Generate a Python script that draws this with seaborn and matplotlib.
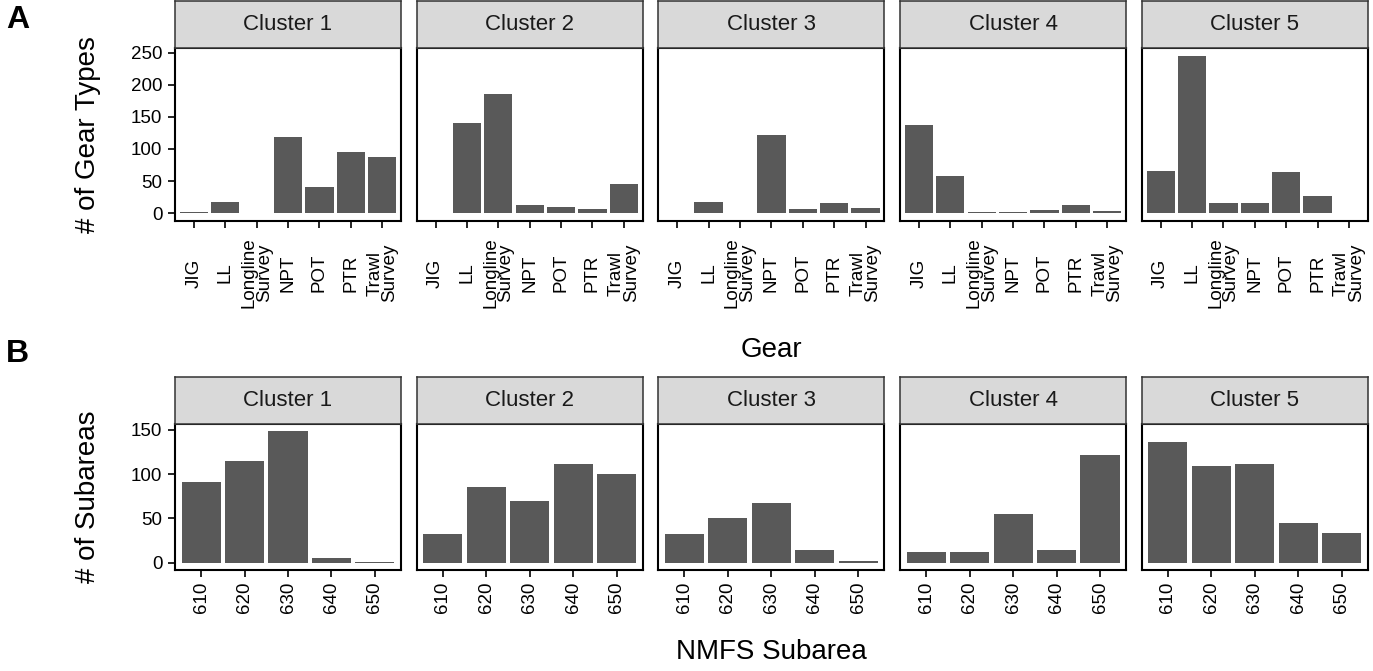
import numpy as np
import pandas as pd
import matplotlib
matplotlib.use("Agg")
import matplotlib.pyplot as plt
import seaborn as sns

# ---- data -------------------------------------------------------------
clusters = ["Cluster 1", "Cluster 2", "Cluster 3", "Cluster 4", "Cluster 5"]

gears = ["JIG", "LL", "Longline Survey", "NPT", "POT", "PTR", "Trawl Survey"]
gear_tick_labels = ["JIG", "LL", "Longline\nSurvey", "NPT", "POT", "PTR", "Trawl\nSurvey"]
gear_c1 = [2, 18, 0, 118, 40, 95, 88]
gear_c2 = [0, 140, 185, 13, 9, 6, 46]
gear_c3 = [0, 18, 0, 121, 6, 16, 8]
gear_c4 = [137, 58, 2, 2, 5, 12, 3]
gear_c5 = [66, 245, 16, 16, 64, 26, 0]
gear_counts = [gear_c1, gear_c2, gear_c3, gear_c4, gear_c5]

subareas = ["610", "620", "630", "640", "650"]
sub_c1 = [91, 115, 149, 5, 1]
sub_c2 = [33, 85, 70, 111, 100]
sub_c3 = [32, 51, 67, 15, 2]
sub_c4 = [12, 12, 55, 15, 122]
sub_c5 = [136, 109, 111, 45, 34]
sub_counts = [sub_c1, sub_c2, sub_c3, sub_c4, sub_c5]

gear_ticks = [0, 50, 100, 150, 200, 250]
sub_ticks = [0, 50, 100, 150]

gear_df = pd.DataFrame(
    [(c, g, v) for c, vals in zip(clusters, gear_counts) for g, v in zip(gears, vals)],
    columns=["cluster", "gear", "n"],
)
sub_df = pd.DataFrame(
    [(c, s, v) for c, vals in zip(clusters, sub_counts) for s, v in zip(subareas, vals)],
    columns=["cluster", "subarea", "n"],
)

# ---- style -------------------------------------------------------------
sns.set_style("white")
plt.rcParams["font.family"] = ["Liberation Sans", "DejaVu Sans"]
plt.rcParams["text.color"] = "black"
plt.rcParams["axes.labelcolor"] = "black"

BAR = "#595959"
STRIP_FILL = "#D9D9D9"
STRIP_EDGE = "#333333"

W, H = 1373, 671
fig = plt.figure(figsize=(W / 100, H / 100), dpi=100)


def box(l, t, r, b):
    return [l / W, 1 - b / H, (r - l) / W, (b - t) / H]


PANEL_L0 = 175
PANEL_STEP = 241.7
PANEL_W = 226
TICK_LEN = 5          # points
PX = 0.72             # points per pixel at 100 dpi


def draw_row(df, xcol, order, ticklabels, yticks, strip_top, panel_top,
             panel_bottom, label_center):
    ymax = df["n"].max()
    lo, hi = -0.05 * ymax, ymax * 1.05
    # distance from the tick end to the centre of the rotated labels
    xpad = (label_center - panel_bottom) * PX - TICK_LEN
    for k, c in enumerate(clusters):
        l = PANEL_L0 + k * PANEL_STEP
        r = l + PANEL_W
        ax = fig.add_axes(box(l, panel_top, r, panel_bottom))
        sns.barplot(
            data=df[df["cluster"] == c], x=xcol, y="n", order=order,
            color=BAR, saturation=1, width=0.9, errorbar=None,
            linewidth=0, ax=ax,
        )
        n = len(order)
        ax.set_xlim(-0.6, n - 0.4)
        ax.set_ylim(lo, hi)
        ax.set_xlabel("")
        ax.set_ylabel("")
        ax.set_xticks(range(n))
        ax.set_xticklabels(ticklabels)
        ax.tick_params(axis="x", length=TICK_LEN, width=1.2, pad=xpad,
                       labelsize=13.5, colors="black", bottom=True)
        for t in ax.get_xticklabels():
            t.set_rotation(90)
            t.set_ha("center")
            t.set_va("center")
            t.set_multialignment("center")
            t.set_linespacing(0.85)
        if k == 0:
            ax.set_yticks(yticks)
            ax.tick_params(axis="y", length=TICK_LEN, width=1.2, pad=4,
                           labelsize=13.5, colors="black", left=True)
        else:
            ax.set_yticks([])
        for s in ax.spines.values():
            s.set_visible(True)
            s.set_color("black")
            s.set_linewidth(1.5)

        sax = fig.add_axes(box(l, strip_top, r, panel_top))
        sax.set_facecolor(STRIP_FILL)
        sax.set_xticks([])
        sax.set_yticks([])
        for s in sax.spines.values():
            s.set_color(STRIP_EDGE)
            s.set_linewidth(1.1)
        sax.text(0.5, 0.5, c, ha="center", va="center", fontsize=16,
                 color="#1A1A1A", transform=sax.transAxes)


draw_row(gear_df, "gear", gears, gear_tick_labels, gear_ticks, 1, 48, 221, 273)
draw_row(sub_df, "subarea", subareas, subareas, sub_ticks, 377, 424, 569.5, 597.5)

mid_x = (PANEL_L0 + PANEL_L0 + 4 * PANEL_STEP + PANEL_W) / 2

fig.text(88 / W, 1 - 134.5 / H, "# of Gear Types", rotation=90,
         ha="center", va="center", fontsize=20)
fig.text(88 / W, 1 - 497 / H, "# of Subareas", rotation=90,
         ha="center", va="center", fontsize=20)
fig.text(mid_x / W, 1 - 350 / H, "Gear", ha="center", va="center", fontsize=20)
fig.text(mid_x / W, 1 - 652 / H, "NMFS Subarea", ha="center", va="center", fontsize=20)

fig.text(6 / W, 1 - 5 / H, "A", ha="left", va="top", fontsize=23, fontweight="bold")
fig.text(6 / W, 1 - 339 / H, "B", ha="left", va="top", fontsize=23, fontweight="bold")

fig.savefig("out.png", dpi=100)
